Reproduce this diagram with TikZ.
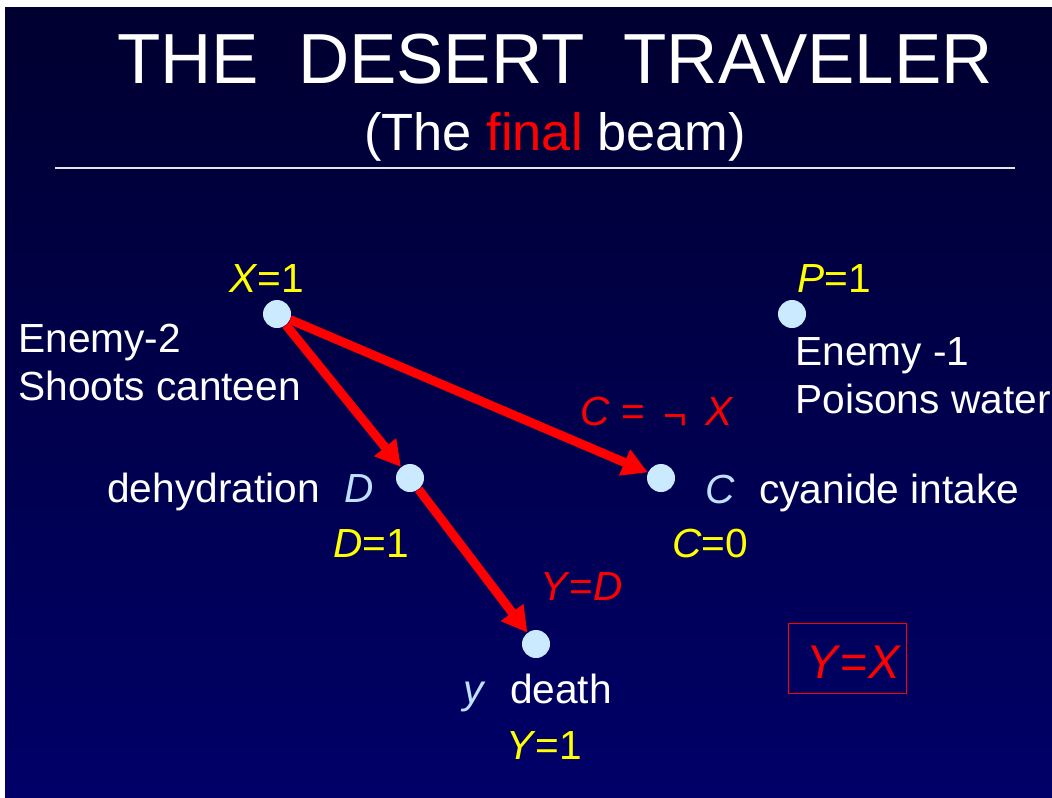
\documentclass[tikz,border=0pt]{standalone}
\usepackage{fontspec}
\setmainfont{Liberation Sans}
\usetikzlibrary{arrows.meta}
\definecolor{bgtop}{RGB}{0,0,48}
\definecolor{bgbot}{RGB}{0,0,104}
\definecolor{dotblue}{RGB}{204,234,255}
\definecolor{varblue}{RGB}{190,225,255}
\definecolor{yel}{RGB}{255,255,0}
\definecolor{rd}{RGB}{255,0,0}
\tikzset{
  dot/.style={circle,fill=dotblue,draw=none,minimum size=21pt,inner sep=0pt},
  lbl/.style={anchor=base west,inner sep=0pt,text=white,font=\fontsize{30.5}{36}\selectfont},
  val/.style={lbl,text=yel},
  eq/.style={lbl,text=rd},
  beam/.style={draw=rd,line width=6.75pt,-{Triangle[length=19pt,width=20pt]}},
}
\begin{document}
\begin{tikzpicture}[x=0.75pt,y=-0.75pt]
\useasboundingbox (0,0) rectangle (1052,797);
\fill[white] (0,0) rectangle (1052,797);
\shade[top color=bgtop,bottom color=bgbot] (5,7) rectangle (1052,797);
% title
\node[anchor=base,inner sep=0pt,text=white,font=\fontsize{53.2}{60}\selectfont] (title) at (555,83) {THE\hspace{0.55em}DESERT\hspace{0.55em}TRAVELER};
\node[anchor=base,inner sep=0pt,text=white,font=\fontsize{39.3}{44}\selectfont] (sub) at (555,150) {(The \textcolor{rd}{final} beam)};
\draw[white!80!gray,line width=1.2pt] (55,168) -- (1015,168);
% dots
\node[dot] (X) at (277,314) {};
\node[dot] (P) at (792,314) {};
\node[dot] (D) at (410,478) {};
\node[dot] (C) at (661,478) {};
\node[dot] (Y) at (536,644) {};
% arrows
\draw[beam] (X) -- (D);
\draw[beam] (X) -- (C);
\draw[beam] (D) -- (Y);
% labels
\node[val] (xv) at (229,292) {\textit{X}=1};
\node[val] (pv) at (797,292) {\textit{P}=1};
\node[lbl] (e2a) at (18,352) {Enemy-2};
\node[lbl] (e2b) at (18,400) {Shoots canteen};
\node[lbl] (e1a) at (795,365) {Enemy -1};
\node[lbl] (e1b) at (795,413) {Poisons water};
\node[eq] (ceq) at (580,425) {\textit{C} = \hspace{0.18em}\raisebox{-0.12em}{¬}\hspace{0.18em} \textit{X}};
\node[lbl] (dl) at (107,502) {dehydration\hspace{0.6em}\textcolor{varblue}{\textit{D}}};
\node[val] (dv) at (333,557) {\textit{D}=1};
\node[lbl] (cl) at (705,503) {\textcolor{varblue}{\textit{C}}\hspace{0.6em}cyanide intake};
\node[val] (cv) at (672,557) {\textit{C}=0};
\node[eq] (yeq) at (540,600) {\textit{Y}=\textit{D}};
\node[lbl] (yl) at (463,703) {\textcolor{varblue}{\textit{y}}\hspace{0.6em}death};
\node[val] (yv) at (506,759) {\textit{Y}=1};
% box
\node[draw=rd,line width=0.8pt,minimum width=88.5pt,minimum height=53pt,inner sep=0pt] (box) at (847.5,658.5) {};
\node[anchor=base west,inner sep=0pt,text=rd,font=\fontsize{35.5}{40}\selectfont] (yx) at (806,678) {\textit{Y}=\textit{X}};
\end{tikzpicture}
\end{document}
